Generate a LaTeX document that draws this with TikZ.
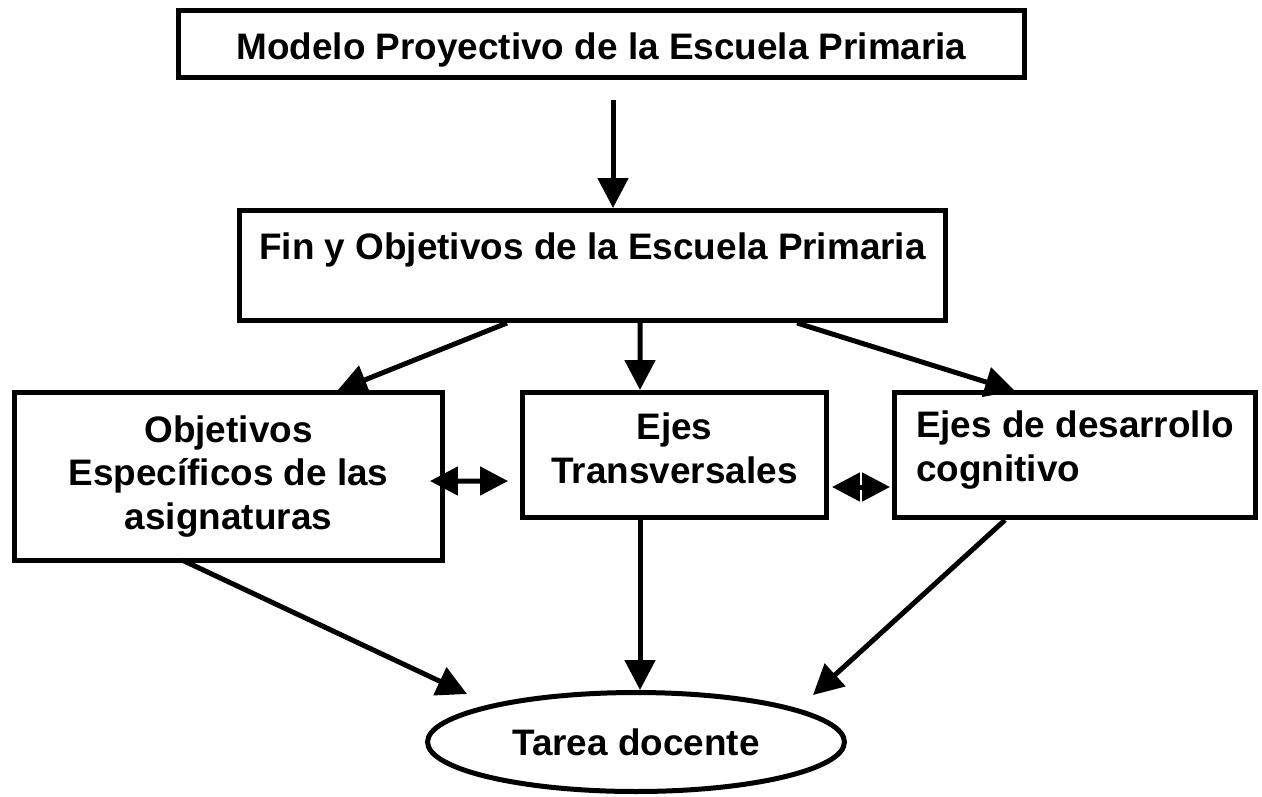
\documentclass[tikz,border=0pt]{standalone}
\usepackage{fontspec}
\setmainfont{Liberation Sans}
\usetikzlibrary{arrows.meta,positioning,shapes}
\tikzset{>={Triangle[length=0.6cm,width=0.6cm]},
	block/.style={% boxes of the scheme
		draw, rectangle,
		line width=0.1cm,
		inner sep=0pt,
		align=center,
		font=\fontsize{21pt}{25pt}\selectfont\bfseries
	},
	oval/.style={
		block,
		shape=ellipse
	},
	link/.style={->, line width=0.1cm},
	twoway/.style={{Triangle[length=0.56cm,width=0.56cm]}-{Triangle[length=0.56cm,width=0.56cm]}, line width=0.1cm}
}
% lifts the last line of a box a little
\newcommand{\lowpad}[1]{\rule[-#1]{0pt}{#1}}

\begin{document}
\begin{tikzpicture}[x=0.02cm, y=-0.02cm]
	\useasboundingbox (0,0) rectangle (1262,796);
	\node[block, minimum width=16.94cm, text height=0.98cm, text depth=0.36cm] (modelo) at (601.5,44) {Modelo Proyectivo de la Escuela Primaria};
	\node[block, minimum width=14.12cm, text height=0.98cm, text depth=1.22cm] (fin) at (592.5,265.5) {Fin y Objetivos de la Escuela Primaria};
	
	\node[block, minimum width=8.56cm, minimum height=3.36cm] (obj) at (228.5,476.5) {Objetivos\\Específicos de las\\asignaturas};
	\node[block, minimum width=6.08cm, minimum height=2.5cm] (ejes) at (674.5,455) {Ejes\\Transversales\lowpad{0.26cm}};
	\node[block, minimum width=7.22cm, minimum height=2.5cm, align=left] (cog) at (1075,455) {Ejes de desarrollo\\cognitivo\lowpad{0.36cm}};
	
	\node[oval, minimum width=8.34cm, minimum height=1.98cm] (tarea) at (636,742) {Tarea docente};
	
	\draw[link] ([shift={(11.5,20)}]modelo.south) -- ([shift={(20.5,0)}]fin.north);
	\draw[link] ([shift={(-85.5,0)}]fin.south) -- ([shift={(108.5,1)}]obj.north);
	\draw[link] ([shift={(47.5,0)}]fin.south) -- ([shift={(-34.5,0)}]ejes.north);
	\draw[link] ([shift={(204.5,0)}]fin.south) -- ([shift={(-60,1)}]cog.north);
	
	\draw[twoway] ([shift={(-15,4.5)}]obj.east) -- ([shift={(-12,26)}]ejes.west);
	\draw[twoway] ([shift={(3,32)}]ejes.east) -- ([shift={(-2,32)}]cog.west);
	
	\draw[link] ([shift={(-46.5,-3)}]obj.south) -- ([shift={(-169,4)}]tarea.north);
	\draw[link] ([shift={(-34.5,0)}]ejes.south) -- ([shift={(4,0)}]tarea.north);
	\draw[link] ([shift={(-70,0)}]cog.south) -- ([shift={(177,5)}]tarea.north);
\end{tikzpicture}
\end{document}
